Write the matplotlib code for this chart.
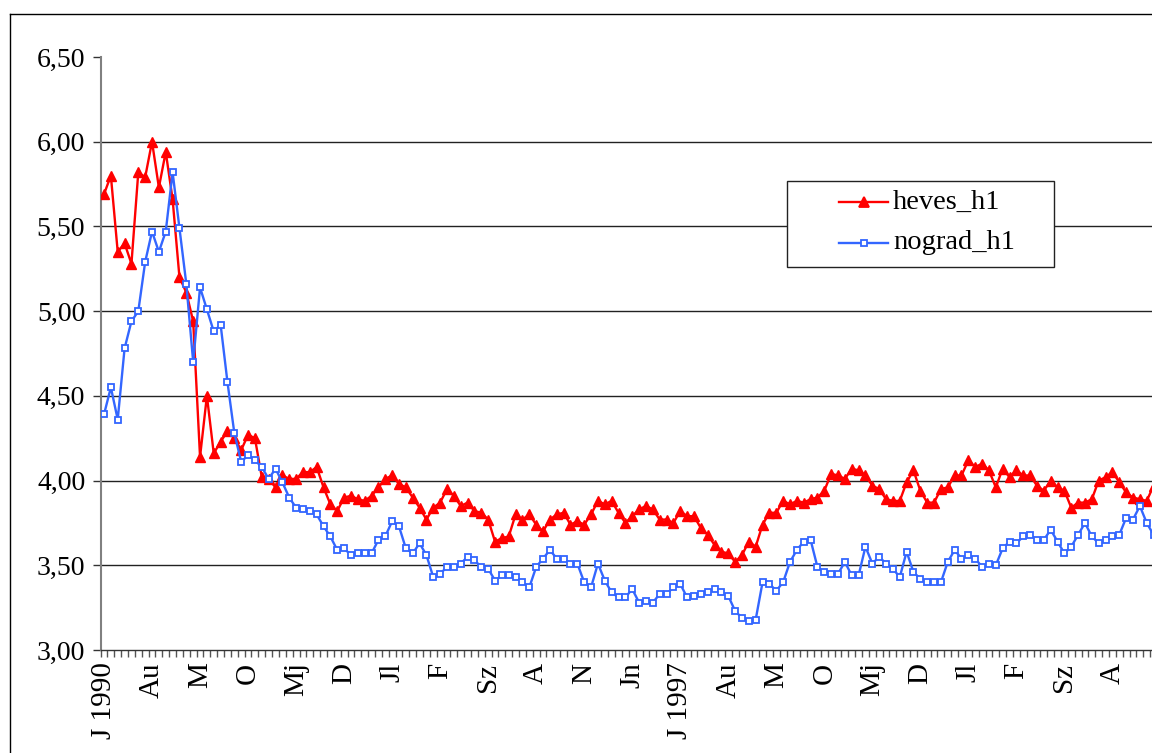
import matplotlib
matplotlib.use("Agg")
import matplotlib.pyplot as plt
from matplotlib.lines import Line2D
from matplotlib.patches import Rectangle
import numpy as np

# ---------------- data (monthly, from January 1990) ----------------
heves_h1 = [
    5.69, 5.80, 5.35, 5.40, 5.28, 5.82, 5.79, 6.00, 5.73, 5.94,
    5.66, 5.20, 5.11, 4.94, 4.14, 4.50, 4.16, 4.23, 4.29, 4.25,
    4.18, 4.27, 4.25, 4.02, 4.01, 3.96, 4.03, 4.01, 4.01, 4.05,
    4.05, 4.08, 3.96, 3.86, 3.82, 3.90, 3.91, 3.89, 3.88, 3.91,
    3.96, 4.01, 4.03, 3.98, 3.96, 3.90, 3.84, 3.77, 3.84, 3.87,
    3.95, 3.91, 3.85, 3.87, 3.82, 3.81, 3.77, 3.64, 3.66, 3.67,
    3.80, 3.77, 3.80, 3.74, 3.70, 3.77, 3.80, 3.81, 3.74, 3.76,
    3.74, 3.80, 3.88, 3.86, 3.88, 3.81, 3.75, 3.79, 3.83, 3.85,
    3.83, 3.77, 3.77, 3.75, 3.82, 3.79, 3.79, 3.72, 3.68, 3.62,
    3.58, 3.57, 3.52, 3.56, 3.64, 3.61, 3.74, 3.81, 3.81, 3.88,
    3.86, 3.88, 3.87, 3.89, 3.90, 3.94, 4.04, 4.03, 4.01, 4.07,
    4.06, 4.03, 3.97, 3.95, 3.89, 3.88, 3.88, 3.99, 4.06, 3.94,
    3.87, 3.87, 3.95, 3.96, 4.03, 4.03, 4.12, 4.08, 4.10, 4.06,
    3.96, 4.07, 4.02, 4.06, 4.03, 4.03, 3.97, 3.94, 4.00, 3.96,
    3.94, 3.84, 3.87, 3.87, 3.89, 4.00, 4.02, 4.05, 3.99, 3.93,
    3.90, 3.89, 3.88, 3.97,
]

nograd_h1 = [
    4.39, 4.55, 4.36, 4.78, 4.94, 5.00, 5.29, 5.47, 5.35, 5.47,
    5.82, 5.49, 5.16, 4.70, 5.14, 5.01, 4.88, 4.92, 4.58, 4.28,
    4.11, 4.15, 4.12, 4.08, 4.01, 4.07, 3.99, 3.90, 3.84, 3.83,
    3.82, 3.80, 3.73, 3.67, 3.59, 3.60, 3.56, 3.57, 3.57, 3.57,
    3.65, 3.67, 3.76, 3.73, 3.60, 3.57, 3.63, 3.56, 3.43, 3.45,
    3.49, 3.49, 3.51, 3.55, 3.53, 3.49, 3.48, 3.41, 3.44, 3.44,
    3.43, 3.40, 3.37, 3.49, 3.54, 3.59, 3.54, 3.54, 3.51, 3.51,
    3.40, 3.37, 3.51, 3.41, 3.34, 3.31, 3.31, 3.36, 3.28, 3.29,
    3.28, 3.33, 3.33, 3.37, 3.39, 3.31, 3.32, 3.33, 3.34, 3.36,
    3.34, 3.32, 3.23, 3.19, 3.17, 3.18, 3.40, 3.39, 3.35, 3.40,
    3.52, 3.59, 3.64, 3.65, 3.49, 3.46, 3.45, 3.45, 3.52, 3.44,
    3.44, 3.61, 3.51, 3.55, 3.51, 3.48, 3.43, 3.58, 3.46, 3.42,
    3.40, 3.40, 3.40, 3.52, 3.59, 3.54, 3.56, 3.54, 3.49, 3.51,
    3.50, 3.60, 3.64, 3.63, 3.67, 3.68, 3.65, 3.65, 3.71, 3.64,
    3.57, 3.61, 3.68, 3.75, 3.67, 3.63, 3.65, 3.67, 3.68, 3.78,
    3.77, 3.85, 3.75, 3.68,
]

# category labels, every 7th month (Hungarian abbreviations) - visible part
month_labels = ["J 1990", "Au", "M", "O", "Mj", "D", "Jl", "F", "Sz", "A", "N", "Jn",
                "J 1997", "Au", "M", "O", "Mj", "D", "Jl", "F", "Sz", "A"]
label_step = 7
y_ticks = [3.0, 3.5, 4.0, 4.5, 5.0, 5.5, 6.0, 6.5]
series_names = ["heves_h1", "nograd_h1"]

# ---------------- figure ----------------
plt.rcParams["font.family"] = ["Liberation Serif", "DejaVu Serif"]
W_PX, H_PX = 1152, 753
fig = plt.figure(figsize=(W_PX / 100, H_PX / 100), dpi=100)
fig.patch.set_facecolor("white")


def fx(x):
    return x / W_PX


def fy(y):
    return 1 - y / H_PX


# outer chart-area border (cropped on the right and bottom)
fig.add_artist(Line2D([fx(9.5), fx(9.5)], [fy(13.5), fy(800)], color="black", lw=1,
                      transform=fig.transFigure))
fig.add_artist(Line2D([fx(9.5), fx(1200)], [fy(13.5), fy(13.5)], color="black", lw=1,
                      transform=fig.transFigure))

px_per_month = 6.86
n_view = 161
ax = fig.add_axes([fx(104 - px_per_month / 2), fy(650),
                   n_view * px_per_month / W_PX, (650 - 57) / H_PX])
ax.set_xlim(-0.5, n_view - 0.5)
ax.set_ylim(3.0, 6.5)
ax.set_facecolor("white")

# gridlines (none at the top value)
for v in y_ticks[1:-1]:
    ax.axhline(v, color="#222222", lw=1.0, zorder=1)

x = np.arange(len(heves_h1))
ax.plot(x, heves_h1, color="#FF0000", lw=1.7, marker="^", ms=7.5,
        mfc="#FF0000", mec="#FF0000", zorder=3, label=series_names[0])
ax.plot(x, nograd_h1, color="#3366FF", lw=1.7, marker="s", ms=4.6,
        mfc="white", mec="#3366FF", mew=1.3, zorder=4, label=series_names[1])

# spines
for s in ("top", "right"):
    ax.spines[s].set_visible(False)
ax.spines["left"].set_color("#808080")
ax.spines["left"].set_linewidth(1.5)
ax.spines["bottom"].set_color("#333333")
ax.spines["bottom"].set_linewidth(1.0)

# y axis
ax.set_yticks(y_ticks)
ax.set_yticklabels([f"{v:.2f}".replace(".", ",") for v in y_ticks])
ax.tick_params(axis="y", direction="out", length=6, width=1, color="#333333",
               pad=5, labelsize=20)

# x axis: labels every 7 months, small ticks at every category boundary
label_pos = np.arange(len(month_labels)) * label_step
ax.set_xticks(label_pos)
ax.set_xticklabels(month_labels, rotation=90)
ax.set_xticks(np.arange(-0.5, n_view, 1.0), minor=True)
ax.tick_params(axis="x", which="major", length=0, pad=9, labelsize=21)
ax.tick_params(axis="x", which="minor", direction="out", length=5, width=1,
               color="#555555")

# ---------------- legend (drawn in pixel positions) ----------------
fig.add_artist(Rectangle((fx(786.5), fy(266.5)), (1053.5 - 786.5) / W_PX,
                         (266.5 - 180.5) / H_PX, transform=fig.transFigure,
                         facecolor="white", edgecolor="#222222", lw=1, zorder=10))
leg_rows = [(202, "#FF0000", "^", 7.5, "#FF0000"), (243, "#3366FF", "s", 4.6, "white")]
for name, (yy, col, mk, ms, mfc) in zip(series_names, leg_rows):
    fig.add_artist(Line2D([fx(839), fx(863.5), fx(888)], [fy(yy)] * 3, color=col, lw=1.7,
                          marker=mk, ms=ms, mfc=mfc, mec=col, mew=1.3, markevery=[1],
                          transform=fig.transFigure, zorder=11))
    fig.text(fx(893), fy(yy), name, fontsize=20.5, va="center", ha="left", zorder=11)

fig.savefig("out.png", dpi=100, facecolor="white")
